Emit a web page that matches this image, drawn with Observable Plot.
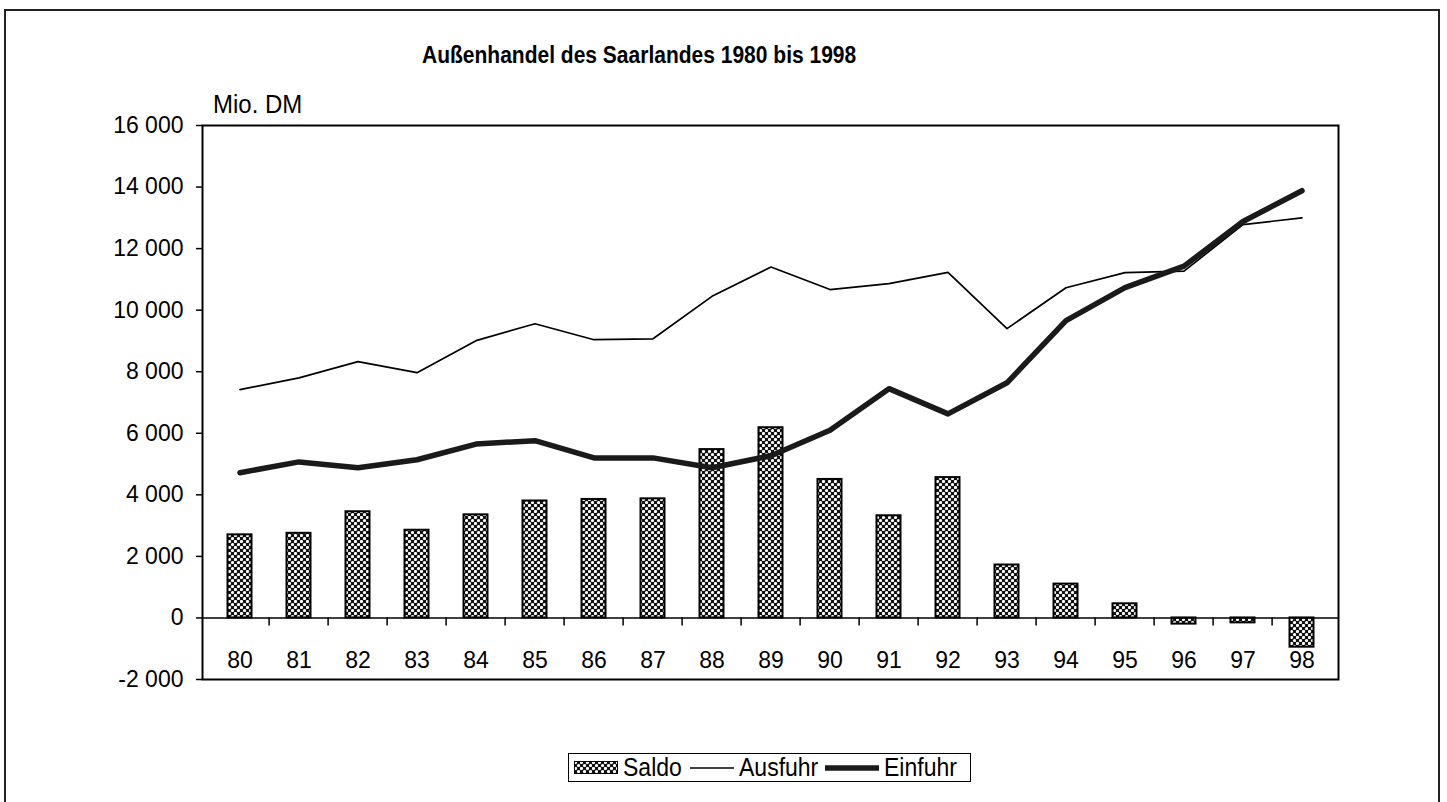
<!DOCTYPE html>
<html><head><meta charset="utf-8">
<script src="https://cdn.jsdelivr.net/npm/d3@7"></script>
<script src="https://cdn.jsdelivr.net/npm/@observablehq/plot@0.6"></script>
<style>
body{margin:0;background:#fff;font-family:"Liberation Sans",Arial,sans-serif;color:#000;}
#wrap{position:relative;width:1447px;height:802px;overflow:hidden;background:#fff;}
#frame{position:absolute;left:4px;top:9px;width:1436px;height:800px;border:2px solid #222;box-sizing:border-box;pointer-events:none;}
#title{position:absolute;left:422px;top:44px;font-size:21px;line-height:21px;font-weight:bold;white-space:nowrap;transform:scaleY(1.18);transform-origin:center;}
#unit{position:absolute;left:213px;top:92px;font-size:24px;line-height:24px;white-space:nowrap;transform:scaleY(1.1);transform-origin:center;}
#legend{position:absolute;left:568px;top:753px;width:403px;height:29px;border:1.5px solid #000;box-sizing:border-box;}
#legend .lab{position:absolute;top:1px;font-size:23px;line-height:24px;white-space:nowrap;transform:scaleY(1.1);transform-origin:center;}
#legend svg{position:absolute;}
#chart{position:absolute;left:0;top:0;}
</style>
</head><body>
<div id="wrap">
  <div id="chart"></div>
  <div id="title">Außenhandel des Saarlandes 1980 bis 1998</div>
  <div id="unit">Mio. DM</div>
  <div id="legend"></div>
  <div id="frame"></div>
</div>
<script>
const years = ["80","81","82","83","84","85","86","87","88","89","90","91","92","93","94","95","96","97","98"];
const saldo = [2700, 2750, 3450, 2850, 3350, 3800, 3850, 3870, 5470, 6180, 4500, 3320, 4560, 1720, 1100, 460, -200, -160, -950];
const ausfuhr = [7420, 7800, 8330, 7970, 9010, 9560, 9040, 9070, 10450, 11400, 10670, 10860, 11230, 9400, 10730, 11220, 11270, 12780, 13000];
const einfuhr = [4720, 5070, 4880, 5140, 5650, 5760, 5200, 5200, 4880, 5270, 6100, 7450, 6630, 7640, 9660, 10730, 11430, 12880, 13880];
const yTicks = [-2000, 0, 2000, 4000, 6000, 8000, 10000, 12000, 14000, 16000];
const seriesNames = ["Saldo", "Ausfuhr", "Einfuhr"];

const W = 1447, H = 802, ml = 202, mr = 1447 - 1338, mt = 125, mb = 802 - 679;
const step = (W - ml - mr) / years.length;
const data = years.map((y, i) => ({year: y, saldo: saldo[i], ausfuhr: ausfuhr[i], einfuhr: einfuhr[i]}));
const fmt = d => (d < 0 ? "-" : "") + d3.format(",")(Math.abs(d)).replace(/,/g, " ");

const chart = Plot.plot({
  width: W, height: H,
  marginLeft: ml, marginRight: mr, marginTop: mt, marginBottom: mb,
  style: {fontFamily: "Liberation Sans, Arial, sans-serif", fontSize: "23px", color: "#000", background: "transparent"},
  x: {type: "band", domain: years, padding: 0, axis: null, label: null},
  y: {domain: [-2000, 16000], label: null},
  marks: [
    Plot.barY(data, {x: "year", y: "saldo", insetLeft: 17.5, insetRight: 17.5, fill: "url(#saldoPattern)", stroke: "#000", strokeWidth: 2}),
    Plot.ruleY([0], {stroke: "#000", strokeWidth: 1.5}),
    Plot.ruleX(years.slice(1), {x: d => d, y1: 0, y2: 0, insetBottom: -8, dx: -step / 2, stroke: "#000", strokeWidth: 1.5}),
    Plot.line(data, {x: "year", y: "ausfuhr", stroke: "#000", strokeWidth: 1.7, strokeLinejoin: "round"}),
    Plot.line(data, {x: "year", y: "einfuhr", stroke: "#1a1a1a", strokeWidth: 5.5, strokeLinejoin: "round"}),
    Plot.frame({stroke: "#000", strokeWidth: 2}),
    Plot.axisY(yTicks, {tickSize: 6, tickPadding: 13, tickFormat: fmt, fontSize: 23, strokeWidth: 1.5}),
    Plot.text(years, {x: d => d, frameAnchor: "bottom", dy: -19, lineAnchor: "middle", fontSize: 23})
  ]
});
d3.select(chart).insert("defs", ":first-child").html(
  `<pattern id="saldoPattern" width="6" height="6" patternUnits="userSpaceOnUse">
     <rect width="6" height="6" fill="#111"/>
     <circle cx="1.5" cy="1.5" r="1.6" fill="#fff"/>
     <circle cx="4.5" cy="4.5" r="1.6" fill="#fff"/>
   </pattern>`);
document.getElementById("chart").appendChild(chart);

// legend
const leg = document.getElementById("legend");
const pat = `<defs><pattern id="legPattern" width="6" height="6" patternUnits="userSpaceOnUse"><rect width="6" height="6" fill="#111"/><circle cx="1.5" cy="1.5" r="1.6" fill="#fff"/><circle cx="4.5" cy="4.5" r="1.6" fill="#fff"/></pattern></defs>`;
leg.innerHTML =
  `<svg style="left:5px;top:7px" width="44" height="13">${pat}<rect x="0.5" y="0.5" width="43" height="12" fill="url(#legPattern)" stroke="#000"/></svg>` +
  `<span class="lab" style="left:54px">${seriesNames[0]}</span>` +
  `<svg style="left:121px;top:12px" width="44" height="4"><line x1="0" x2="44" y1="2" y2="2" stroke="#000" stroke-width="1.7"/></svg>` +
  `<span class="lab" style="left:170px">${seriesNames[1]}</span>` +
  `<svg style="left:256px;top:10px" width="54" height="8"><line x1="0" x2="54" y1="4" y2="4" stroke="#1a1a1a" stroke-width="5.5"/></svg>` +
  `<span class="lab" style="left:315px">${seriesNames[2]}</span>`;
</script>
</body></html>
